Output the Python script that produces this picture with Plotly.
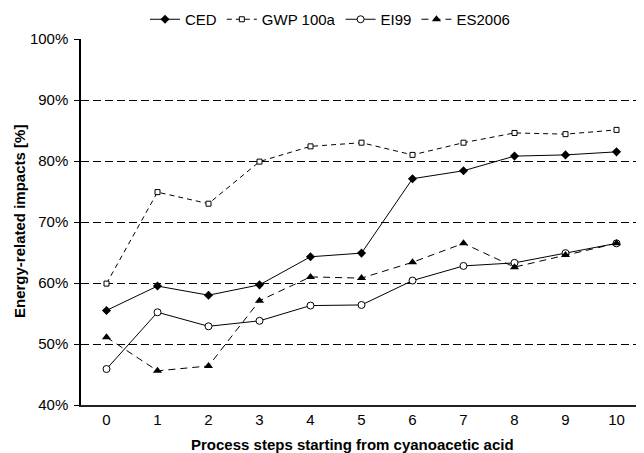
import plotly.graph_objects as go

steps = list(range(11))
ced = [55.5, 59.5, 58.0, 59.7, 64.3, 64.9, 77.1, 78.4, 80.8, 81.0, 81.5]
gwp = [59.9, 74.9, 73.0, 79.9, 82.4, 83.0, 81.0, 83.0, 84.6, 84.4, 85.1]
ei99 = [45.9, 55.2, 52.9, 53.8, 56.3, 56.4, 60.4, 62.8, 63.3, 64.9, 66.5]
es2006 = [51.1, 45.6, 46.4, 57.1, 61.0, 60.8, 63.4, 66.5, 62.6, 64.6, 66.5]
y_ticks = [40, 50, 60, 70, 80, 90, 100]
y_tick_labels = [f"{v}%" for v in y_ticks]
x_title = "Process steps starting from cyanoacetic acid"
y_title = "Energy-related impacts [%]"

fig = go.Figure()
fig.add_trace(go.Scatter(x=steps, y=ced, name="CED", mode="lines+markers",
                         line=dict(color="black", width=1),
                         marker=dict(symbol="diamond", size=7, color="black")))
fig.add_trace(go.Scatter(x=steps, y=gwp, name="GWP 100a", mode="lines+markers",
                         line=dict(color="black", width=1, dash="5px,4px"),
                         marker=dict(symbol="square", size=5, color="white",
                                     line=dict(color="black", width=1))))
fig.add_trace(go.Scatter(x=steps, y=ei99, name="EI99", mode="lines+markers",
                         line=dict(color="black", width=1),
                         marker=dict(symbol="circle", size=7, color="white",
                                     line=dict(color="black", width=1))))
fig.add_trace(go.Scatter(x=steps, y=es2006, name="ES2006", mode="lines+markers",
                         line=dict(color="black", width=1, dash="7px,5px"),
                         marker=dict(symbol="triangle-up", size=8, color="black")))

# page body has an 8px default margin, so the figure is sized/offset to compensate
OFF = 8
W, H = 644 - OFF, 453 - OFF
left, right, top, bottom = 81 - OFF, 2, 39 - OFF, 48
plot_w = W - left - right
plot_h = H - top - bottom

def px_x(page_x):
    return (page_x - OFF - left) / plot_w

def px_y(page_y):
    return (H - bottom - (page_y - OFF)) / plot_h

fig.update_layout(
    width=W, height=H,
    margin=dict(l=left, r=right, t=top, b=bottom, autoexpand=False),
    plot_bgcolor="white", paper_bgcolor="white",
    font=dict(family="Liberation Sans, Arial, sans-serif", size=15, color="black"),
    showlegend=True,
    legend=dict(orientation="h", x=px_x(330), xanchor="center",
                y=px_y(19.5), yanchor="middle",
                font=dict(size=15), itemwidth=30, bgcolor="rgba(0,0,0,0)"),
    xaxis=dict(range=[-0.5, 10.5], tickvals=steps, ticktext=[str(s) for s in steps],
               showgrid=False, zeroline=False, showline=True, linecolor="#222", linewidth=2,
               ticks="", ticklabelstandoff=0, automargin=False),
    yaxis=dict(range=[40, 100], tickvals=y_ticks, ticktext=y_tick_labels,
               showgrid=True, gridcolor="black", griddash="8px,4px", gridwidth=1,
               zeroline=False, showline=True, linecolor="black", linewidth=1.5,
               ticks="outside", ticklen=5, tickcolor="black", tickwidth=1,
               ticklabelstandoff=3, automargin=False),
    yaxis2=dict(range=[40, 100], tickvals=y_ticks, overlaying="y", side="left",
                showticklabels=False, showgrid=False, zeroline=False, showline=False,
                ticks="inside", ticklen=5, tickcolor="black", tickwidth=1, automargin=False),
    annotations=[
        dict(text=f"<b>{x_title}</b>", xref="paper", yref="paper",
             x=px_x(352.5), y=px_y(444),
             xanchor="center", yanchor="middle", showarrow=False, font=dict(size=15)),
        dict(text=f"<b>{y_title}</b>", xref="paper", yref="paper",
             x=px_x(19), y=px_y(222), textangle=-90,
             xanchor="center", yanchor="middle", showarrow=False, font=dict(size=15)),
    ],
)

fig.write_html("out.html")
